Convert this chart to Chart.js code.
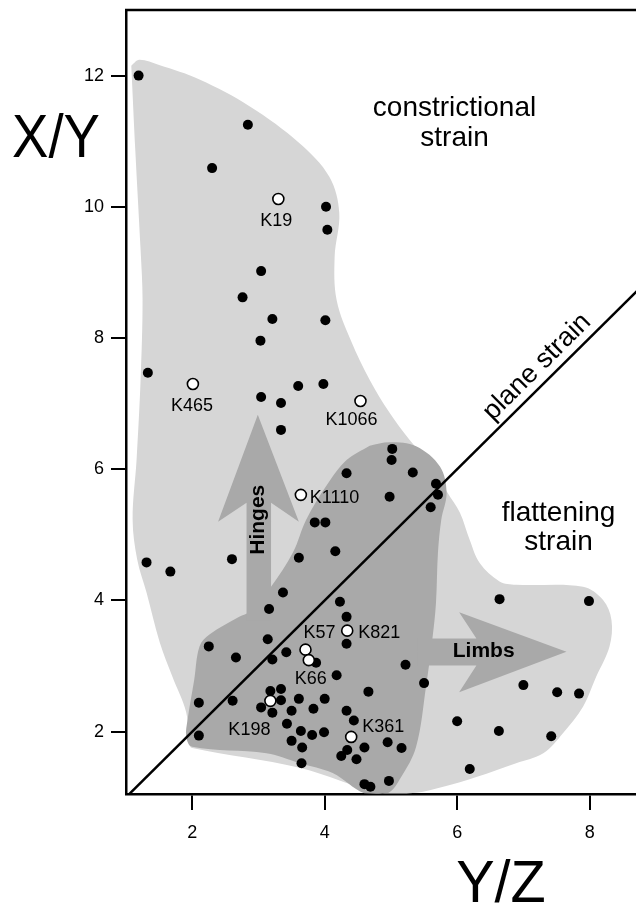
<!DOCTYPE html>
<html>
<head>
<meta charset="utf-8">
<script src="https://cdn.jsdelivr.net/npm/chart.js@4.4.1/dist/chart.umd.min.js"></script>
<style>
  html, body { margin: 0; padding: 0; background: #fff; }
  #wrap { width: 636px; height: 904px; }
</style>
</head>
<body>
<div id="wrap"><canvas id="strainChart" width="636" height="904"></canvas></div>
<script>
// tick values
const yzTicks = [2, 4, 6, 8];
const xyTicks = [2, 4, 6, 8, 10, 12];

// black dots (Y/Z, X/Y)
const solidYZ = [1.19, 2.84, 2.30, 4.02, 4.04, 3.04, 2.76, 3.21, 4.01, 3.03, 1.33, 3.04, 3.34, 3.60, 3.98, 3.34, 4.33, 3.85, 4.01,
  5.02, 5.01, 5.33, 4.98, 5.68, 5.71, 5.60, 1.31, 1.67, 2.60, 3.61, 4.16, 3.37, 3.16, 4.23, 4.33, 4.33, 2.25, 3.14, 2.66, 3.21,
  3.42, 3.87, 4.18, 4.66, 2.10, 2.61, 3.18, 3.34, 3.34, 3.04, 3.21, 3.61, 4.00, 3.83, 3.50, 4.33, 4.44, 3.43, 3.64, 3.81,
  3.99, 2.10, 3.50, 3.66, 4.34, 4.25, 4.48, 4.60, 3.65, 4.95, 5.16, 4.60, 4.69, 4.97, 6.64, 7.99, 5.22, 5.50, 7.00, 7.51,
  7.84, 6.00, 6.63, 7.42, 6.19];
const solidXY = [12.00, 11.25, 10.59, 10.00, 9.65, 9.02, 8.62, 8.29, 8.27, 7.96, 7.47, 7.10, 7.01, 7.27, 7.30, 6.60, 5.94, 5.19, 5.19,
  6.31, 6.14, 5.95, 5.58, 5.78, 5.61, 5.42, 4.58, 4.44, 4.63, 4.65, 4.75, 4.12, 3.87, 3.98, 3.75, 3.34, 3.30, 3.41, 3.13, 3.10,
  3.21, 3.05, 2.86, 2.61, 2.44, 2.47, 2.62, 2.65, 2.48, 2.37, 2.29, 2.50, 2.50, 2.35, 2.32, 2.32, 2.17, 2.12, 2.01, 1.95,
  1.99, 1.94, 1.86, 1.76, 1.72, 1.63, 1.58, 1.76, 1.52, 1.84, 1.75, 1.20, 1.16, 1.25, 4.02, 3.99, 3.02, 2.74, 2.71, 2.60,
  2.58, 2.16, 2.01, 1.93, 1.43];

// named samples (open circles)
const sampleNames = ["K19", "K465", "K1066", "K1110", "K57", "K821", "K66", "K198", "K361"];
const sampleYZ = [3.30, 2.01, 4.54, 3.64, 3.71, 4.34, 3.76, 3.18, 4.40];
const sampleXY = [10.12, 7.30, 7.04, 5.61, 3.25, 3.54, 3.09, 2.47, 1.92];

// shaded fields, outlines in data units [Y/Z, X/Y]
const outerField = [[1.08, 12.15], [1.20, 12.24], [1.50, 12.16], [2.11, 11.94], [2.87, 11.53], [3.62, 10.97], [4.07, 10.46],
  [4.22, 9.91], [4.15, 9.24], [4.18, 8.58], [4.40, 7.95], [4.68, 7.36], [4.98, 6.86], [5.28, 6.45], [5.63, 6.04], [5.85, 5.65],
  [6.04, 5.34], [6.19, 4.92], [6.34, 4.57], [6.64, 4.29], [6.89, 4.24], [7.90, 4.21], [8.20, 4.01], [8.33, 3.70], [8.30, 3.30],
  [8.10, 2.84], [7.90, 2.38], [7.60, 1.98], [7.30, 1.67], [6.89, 1.52], [6.29, 1.31], [5.79, 1.16], [5.38, 1.07], [4.83, 1.07],
  [3.62, 1.45], [2.00, 1.75], [1.95, 1.82], [1.91, 2.29], [1.70, 2.84], [1.51, 3.36], [1.31, 4.12], [1.17, 4.62], [1.10, 5.23],
  [1.16, 6.15], [1.22, 7.36], [1.25, 8.58], [1.22, 9.35], [1.14, 10.87], [1.08, 12.15]];
const innerField = [[4.68, 6.36], [4.98, 6.41], [5.38, 6.35], [5.74, 6.04], [5.84, 5.64], [5.76, 5.23], [5.71, 4.73], [5.68, 3.96],
  [5.63, 3.45], [5.53, 2.69], [5.38, 1.77], [5.15, 1.30], [4.95, 1.06], [4.60, 1.06], [4.12, 1.37], [3.62, 1.52], [3.12, 1.67],
  [2.00, 1.77], [1.91, 1.92], [1.93, 2.18], [2.03, 2.79], [2.11, 3.30], [2.26, 3.48], [2.71, 3.75], [2.87, 3.83], [3.19, 4.21],
  [3.52, 4.73], [3.72, 5.23], [4.02, 5.74], [4.33, 6.14], [4.68, 6.36]];
const hingeArrow = [[2.82, 3.70], [2.82, 5.49], [2.39, 5.20], [2.99, 6.83], [3.61, 5.20], [3.19, 5.49], [3.19, 3.70]];
const limbArrow = [[5.40, 3.42], [6.29, 3.42], [6.03, 3.82], [7.65, 3.22], [6.03, 2.60], [6.29, 3.01], [5.40, 3.01]];
const planeStrain = [[1, 1], [9, 9]];

const FONT = "'Liberation Sans', Arial, Helvetica, sans-serif";

// label offsets next to the open circles (px)
const labelPlace = {
  K19: [-2, 22, "center"], K465: [-1, 22, "center"], K1066: [-9, 19, "center"],
  K1110: [9, 3, "left"], K57: [14, -17, "center"], K821: [11, 2, "left"],
  K66: [2, 19, "center"], K198: [-21, 29, "center"], K361: [11, -10, "left"]
};

const toPts = arr => arr.map(p => ({ x: p[0], y: p[1] }));

function shape(pts, color, order, tension) {
  return {
    data: toPts(pts), showLine: true, fill: "shape", tension: tension,
    backgroundColor: color, borderWidth: 0, pointRadius: 0, order: order
  };
}

const notesPlugin = {
  id: "notes",
  afterDatasetsDraw(chart) {
    const ctx = chart.ctx;
    const xs = chart.scales.x, ys = chart.scales.y;
    const area = chart.chartArea;
    ctx.save();
    ctx.fillStyle = "#000";

    // frame top
    ctx.strokeStyle = "#000";
    ctx.lineWidth = 2.5;
    ctx.beginPath();
    ctx.moveTo(area.left - 1, area.top);
    ctx.lineTo(area.right + 2, area.top);
    ctx.stroke();

    // field names
    ctx.font = "28px " + FONT;
    ctx.textAlign = "center";
    ctx.textBaseline = "alphabetic";
    ctx.fillText("constrictional", xs.getPixelForValue(5.96), ys.getPixelForValue(11.39));
    ctx.fillText("strain", xs.getPixelForValue(5.96), ys.getPixelForValue(10.93));
    ctx.fillText("flattening", xs.getPixelForValue(7.53), ys.getPixelForValue(5.21));
    ctx.fillText("strain", xs.getPixelForValue(7.53), ys.getPixelForValue(4.77));

    // plane strain along the diagonal
    const ang = Math.atan2(ys.getPixelForValue(8) - ys.getPixelForValue(1), xs.getPixelForValue(8) - xs.getPixelForValue(1));
    ctx.save();
    ctx.translate(xs.getPixelForValue(7.38), ys.getPixelForValue(7.38));
    ctx.rotate(ang);
    ctx.font = "27px " + FONT;
    ctx.fillText("plane strain", 0, -9);
    ctx.restore();

    // arrows
    ctx.font = "bold 21px " + FONT;
    ctx.textBaseline = "middle";
    ctx.fillText("Limbs", xs.getPixelForValue(6.40), ys.getPixelForValue(3.22));
    ctx.save();
    ctx.translate(xs.getPixelForValue(3.00), ys.getPixelForValue(5.23));
    ctx.rotate(-Math.PI / 2);
    ctx.fillText("Hinges", 0, 0);
    ctx.restore();

    // sample names
    ctx.font = "18px " + FONT;
    const meta = chart.getDatasetMeta(0);
    meta.data.forEach((pt, i) => {
      const p = labelPlace[sampleNames[i]];
      ctx.textAlign = p[2];
      ctx.fillText(sampleNames[i], pt.x + p[0], pt.y + p[1]);
    });

    // axis titles
    ctx.textAlign = "left";
    ctx.textBaseline = "alphabetic";
    ctx.save();
    ctx.translate(12, 157);
    ctx.scale(0.88, 1);
    ctx.font = "62px " + FONT;
    ctx.fillText("X/Y", 0, 0);
    ctx.restore();
    ctx.save();
    ctx.translate(501, 902);
    ctx.scale(0.96, 1);
    ctx.textAlign = "center";
    ctx.font = "60px " + FONT;
    ctx.fillText("Y/Z", 0, 0);
    ctx.restore();

    ctx.restore();
  }
};

const axisStyle = {
  grid: { drawOnChartArea: false, drawTicks: true, tickLength: 15, color: "#000", lineWidth: 2 },
  border: { display: true, color: "#000", width: 2.5 },
  ticks: { color: "#000", font: { family: FONT, size: 18 } }
};

function noPad(axis) {
  axis.paddingTop = 0;
  axis.paddingBottom = 0;
  axis.paddingLeft = 0;
  axis.paddingRight = 0;
}

new Chart(document.getElementById("strainChart"), {
  type: "scatter",
  data: {
    datasets: [
      {
        data: sampleYZ.map((x, i) => ({ x: x, y: sampleXY[i] })),
        pointRadius: 5.5, backgroundColor: "#fff", borderColor: "#000", borderWidth: 1.6, order: 0
      },
      {
        data: solidYZ.map((x, i) => ({ x: x, y: solidXY[i] })),
        pointRadius: 5, backgroundColor: "#000", borderWidth: 0, order: 1
      },
      {
        data: toPts(planeStrain), showLine: true, borderColor: "#000", borderWidth: 2.5,
        pointRadius: 0, order: 2
      },
      shape(hingeArrow, "#a9a9a9", 3, 0),
      shape(limbArrow, "#a9a9a9", 3, 0),
      shape(innerField, "#a9a9a9", 4, 0.35),
      shape(outerField, "#d6d6d6", 5, 0.35)
    ]
  },
  options: {
    responsive: false,
    animation: false,
    layout: { autoPadding: false, padding: { top: 10, right: 0, left: 0, bottom: 0 } },
    plugins: { legend: { display: false }, tooltip: { enabled: false } },
    scales: {
      x: {
        type: "linear", min: 1, max: 8.7,
        grid: { ...axisStyle.grid, tickLength: 16 },
        border: axisStyle.border,
        ticks: { ...axisStyle.ticks, padding: 12 },
        afterBuildTicks: axis => { axis.ticks = yzTicks.map(v => ({ value: v })); },
        afterFit: axis => { axis.height = 110; noPad(axis); }
      },
      y: {
        type: "linear", min: 1.05, max: 13,
        grid: axisStyle.grid,
        border: axisStyle.border,
        ticks: { ...axisStyle.ticks, padding: 7 },
        afterBuildTicks: axis => { axis.ticks = xyTicks.map(v => ({ value: v })); },
        afterFit: axis => { axis.width = 126; noPad(axis); }
      }
    }
  },
  plugins: [notesPlugin]
});
</script>
</body>
</html>
